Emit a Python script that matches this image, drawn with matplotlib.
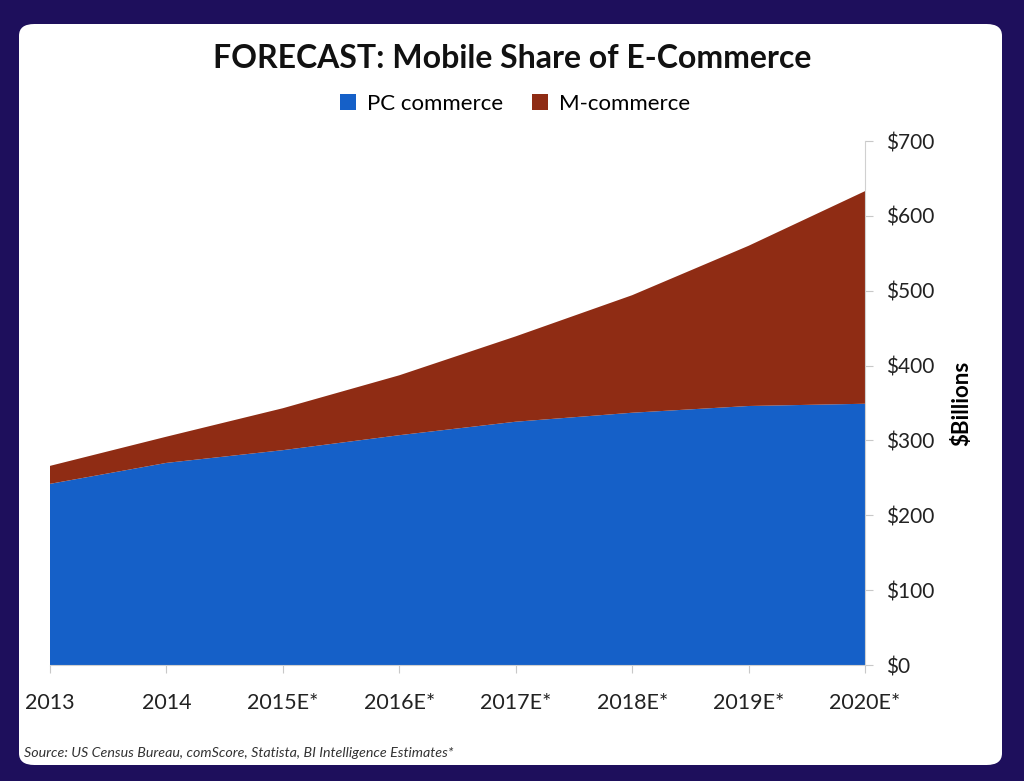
import matplotlib
matplotlib.use('Agg')
import matplotlib.pyplot as plt
from matplotlib.patches import FancyBboxPatch
import numpy as np

years = ['2013', '2014', '2015E*', '2016E*', '2017E*', '2018E*', '2019E*', '2020E*']
pc_commerce = [242, 270, 287, 307, 325, 337, 346, 349]
m_commerce = [24, 35, 56, 80, 114, 157, 214, 284]
y_ticks = [0, 100, 200, 300, 400, 500, 600, 700]

plt.rcParams['font.family'] = ['Lato', 'DejaVu Sans']

fig = plt.figure(figsize=(10.24, 7.81), dpi=100)
fig.patch.set_facecolor('#1e0f5c')

# white card behind the chart
card = FancyBboxPatch((19 / 1024, 1 - 765 / 781), (1002 - 19) / 1024, (765 - 24) / 781,
                      boxstyle='round,pad=0,rounding_size=0.015',
                      transform=fig.transFigure, facecolor='white', edgecolor='none', zorder=-10)
fig.patches.append(card)

ax = fig.add_axes([50 / 1024, 1 - 665 / 781, (865 - 50) / 1024, (665 - 141) / 781])
ax.set_facecolor('none')

x = np.arange(len(years))
ax.stackplot(x, pc_commerce, m_commerce, colors=['#1560c8', '#8f2c14'],
             labels=['PC commerce', 'M-commerce'])

ax.set_xlim(0, len(years) - 1)
ax.set_ylim(0, 700)
ax.set_xticks(x)
ax.set_xticklabels(years, fontsize=15.5, color='#222222')
ax.yaxis.tick_right()
ax.yaxis.set_label_position('right')
ax.set_yticks(y_ticks)
ax.set_yticklabels(['$' + str(v) for v in y_ticks], fontsize=15, color='#222222')
ax.set_ylabel('$Billions', fontsize=16, fontweight='bold', labelpad=12)

for side in ['top', 'left']:
    ax.spines[side].set_visible(False)
ax.spines['right'].set_color('#d0d0d0')
ax.spines['bottom'].set_color('#d0d0d0')
ax.tick_params(axis='both', colors='#c8c8c8', labelcolor='#222222', length=6)
ax.tick_params(axis='x', pad=14)
ax.tick_params(axis='y', pad=9)

fig.text(0.5, 1 - 58 / 781, 'FORECAST: Mobile Share of E-Commerce', ha='center', va='center',
         fontsize=23, fontweight='bold', color='#111111')

handles, labels = ax.get_legend_handles_labels()
fig.legend(handles, labels, loc='center', bbox_to_anchor=(0.503, 1 - 104 / 781), ncol=2,
           frameon=False, fontsize=16, handlelength=0.7, handleheight=0.7,
           columnspacing=1.3, handletextpad=0.5)

fig.text(24 / 1024, 1 - 753 / 781, 'Source: US Census Bureau, comScore, Statista, BI Intelligence Estimates*',
         ha='left', va='center', fontsize=10.3, style='italic', color='#333333')

fig.savefig('out.png', dpi=100, facecolor=fig.get_facecolor())
